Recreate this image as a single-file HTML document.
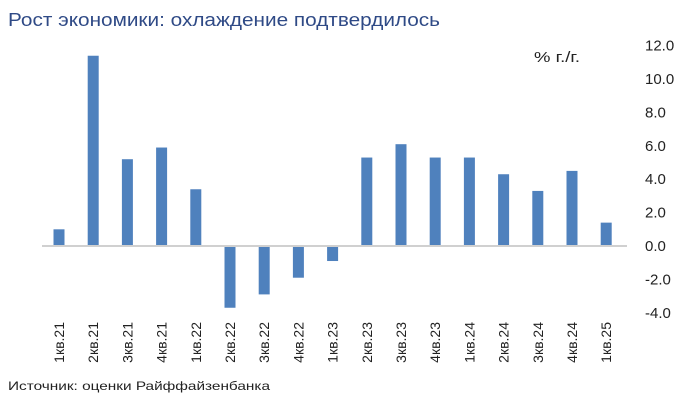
<!DOCTYPE html>
<html><head><meta charset="utf-8"><style>
body{margin:0;background:#fff;width:680px;height:409px;overflow:hidden;font-family:"Liberation Sans","DejaVu Sans",sans-serif}
</style></head><body>
<svg width="680" height="409">
<text x="8" y="26" font-size="18" fill="#2f4a86" textLength="432" lengthAdjust="spacingAndGlyphs">Рост экономики: охлаждение подтвердилось</text>
<text x="534" y="62" font-size="15" fill="#222" textLength="46" lengthAdjust="spacingAndGlyphs">% г./г.</text>
<g id="plot"></g>
<text x="8" y="390" font-size="12" fill="#222" textLength="262" lengthAdjust="spacingAndGlyphs">Источник: оценки Райффайзенбанка</text>
</svg>
<script>
const categories=["1кв.21","2кв.21","3кв.21","4кв.21","1кв.22","2кв.22","3кв.22","4кв.22","1кв.23","2кв.23","3кв.23","4кв.23","1кв.24","2кв.24","3кв.24","4кв.24","1кв.25"];
const values=[1.0,11.4,5.2,5.9,3.4,-3.7,-2.9,-1.9,-0.9,5.3,6.1,5.3,5.3,4.3,3.3,4.5,1.4];
const ticks=[12,10,8,6,4,2,0,-2,-4];
const tickLabels=["12.0","10.0","8.0","6.0","4.0","2.0","0.0","-2.0","-4.0"];
const ns="http://www.w3.org/2000/svg";
const g=document.getElementById("plot");
const y=v=>246-v*16.69;
const x=i=>59+i*34.2;
function mk(t,a){const e=document.createElementNS(ns,t);for(const k in a)e.setAttribute(k,a[k]);g.appendChild(e);return e;}
ticks.forEach((t,i)=>{const e=mk("text",{x:645,y:y(t)+5,"font-size":15,fill:"#222"});e.textContent=tickLabels[i];

});
values.forEach((v,i)=>{const r=mk("rect",{x:x(i)-5.5,y:Math.min(y(v),y(0)),width:11,height:Math.abs(y(v)-y(0)),fill:"#4f81bd"});

});
const z=mk("line",{x1:42,x2:627,y1:y(0),y2:y(0),stroke:"#d0d0d0","stroke-width":2});


categories.forEach((c,i)=>{const e=mk("text",{transform:`translate(${x(i)+5},322) rotate(-90)`,"text-anchor":"end","font-size":14,fill:"#222"});e.textContent=c;

});
</script>
</body></html>
